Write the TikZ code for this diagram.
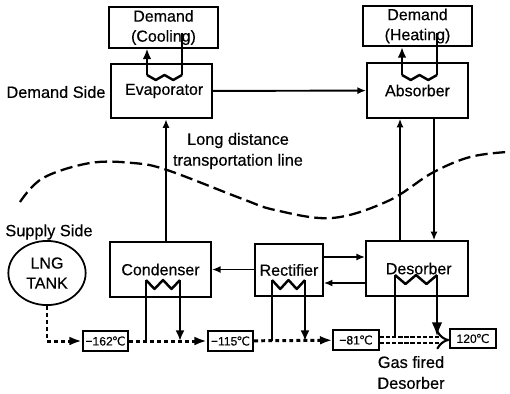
\documentclass[tikz,border=0pt]{standalone}
\usepackage{fontspec}
\setmainfont[FakeBold=0.4]{Liberation Sans}
\newfontfamily\symfont[FakeBold=0.3]{DejaVu Sans}
\usetikzlibrary{arrows.meta,calc,shapes.geometric}
\tikzset{
  unitbox/.style={draw,line width=1pt,align=center,inner sep=0pt,font=\fontsize{9.1}{11.4}\selectfont},
  tempbox/.style={draw,line width=1pt,inner sep=0pt,minimum height=11pt,minimum width=26pt,font=\fontsize{6.9}{8}\selectfont},
  txt/.style={align=center,inner sep=0pt,font=\fontsize{9.3}{11.9}\selectfont},
  flow/.style={line width=1.1pt,-{Latex[length=5pt,width=4pt]}},
  pipe/.style={line width=1.4pt},
  feed/.style={line width=1.4pt,-{Latex[length=6pt,width=5pt]}},
  lng/.style={line width=1.7pt,dash pattern=on 2.2pt off 1.8pt},
  lngin/.style={lng,-{Latex[length=7pt,width=5pt]}}
}
\newcommand{\coil}[3]{%
  \draw[pipe,line join=round] (#1) -- ($(#1)!.25!(#2)+(0,#3)$) -- ($(#1)!.5!(#2)$) -- ($(#1)!.75!(#2)+(0,#3)$) -- (#2);}
\newcommand{\degC}{{\symfont\kern-0.5pt ℃}}
\begin{document}
\begin{tikzpicture}[x=0.02cm,y=-0.02cm]
  \useasboundingbox (0,0) rectangle (510,393);
  % demand side
  \node[unitbox,minimum width=62pt,minimum height=23pt] (dCool) at (163.5,27.5) {Demand\\(Cooling)};
  \node[unitbox,minimum width=62pt,minimum height=23pt] (dHeat) at (417.5,26) {Demand\\(Heating)};
  \node[unitbox,minimum width=57.5pt,minimum height=31pt] (evap) at (161.5,91) {\hspace*{3pt}Evaporator};
  \node[unitbox,minimum width=57.5pt,minimum height=31pt] (absb) at (417.5,90.5) {Absorber};
  % supply side
  \node[unitbox,minimum width=57.5pt,minimum height=31pt] (cond) at (160.5,269.5) {Condenser};
  \node[unitbox,minimum width=38.5pt,minimum height=30pt] (rect) at (289,270) {Rectifier};
  \node[unitbox,minimum width=58pt,minimum height=31pt] (desb) at (417,268.5) {\hspace*{2pt}Desorber};
  \node[unitbox,ellipse,minimum width=44pt,minimum height=36.5pt] (tank) at (47,273) {LNG\\TANK};
  \node[tempbox] (t162) at (105.5,341) {−162\degC};
  \node[tempbox] (t115) at (230.5,341) {−115\degC};
  \node[tempbox] (t81) at (356,340) {−81\degC};
  \node[tempbox] (t120) at (473,338.5) {120\degC};
  % labels
  \node[txt] (lDemand) at (56,92) {Demand Side};
  \node[txt] (lLine) at (238,151) {Long distance\\transportation line};
  \node[txt] (lSupply) at (49,232) {Supply Side};
  \node[txt] (lGas) at (411,372.5) {Gas fired\\Desorber};
  % side border
  \draw[line width=1.3pt,dash pattern=on 7pt off 3pt] plot[smooth,tension=0.6] coordinates
    {(20,202) (43,178) (90,163) (133,163) (167,170) (240,198) (275,210) (332,218) (388,201) (432,173) (470,157) (507,152)};
  % refrigerant lines
  \draw[flow] (evap) -- (absb);
  \draw[flow] (cond.north -| 166,0) -- (evap.south -| 166,0);
  \draw[flow] (desb.north -| 400,0) -- (absb.south -| 400,0);
  \draw[flow] (absb.south -| 434,0) -- (desb.north -| 434,0);
  \draw[flow] (rect.west |- cond) -- (cond.east);
  \draw[flow] (rect.east |- 0,257) -- (desb.west |- 0,257);
  \draw[flow] (desb.west |- 0,283) -- (rect.east |- 0,283);
  % coils
  \coordinate (evL) at (147,75); \coordinate (evR) at (182,75);
  \coordinate (abL) at (402,75); \coordinate (abR) at (437,75);
  \coordinate (coL) at (146,280); \coordinate (coR) at (180,280);
  \coordinate (reL) at (272,280); \coordinate (reR) at (305,280);
  \coordinate (deL) at (395,275); \coordinate (deR) at (437,275);
  \coil{evL}{evR}{5}
  \coil{abL}{abR}{5}
  \coil{coL}{coR}{9}
  \coil{reL}{reR}{9}
  \coil{deL}{deR}{9}
  \draw[feed] (evL) -- (evL |- dCool.south);
  \draw[pipe] (evR) -- (evR |- 0,33);
  \draw[feed] (abL) -- (abL |- dHeat.south);
  \draw[pipe] (abR) -- (abR |- 0,33);
  % lng line
  \coordinate (bend) at (tank.south |- t162);
  \draw[lng] (tank.south) -- (bend);
  \draw[lngin] (bend) -- (t162);
  \draw[lngin] (t162) -- (t115);
  \draw[lngin] (t115) -- (t81);
  \draw[double,double distance=2.4pt,line width=1.2pt,dash pattern=on 2.5pt off 1pt,-{Implies}] (t81.east) -- (t81.east -| t120.west);
  \draw[pipe] (coL) -- (coL |- t162);
  \draw[feed] (coR) -- (coR |- t162);
  \draw[pipe] (reL) -- (reL |- t115);
  \draw[feed] (reR) -- (reR |- t115);
  \draw[pipe,shorten >=1.5pt] (deL) -- (deL |- t81);
  \draw[feed,shorten >=2pt,-{Latex[length=8pt,width=6pt]}] (deR) -- (deR |- t81);
\end{tikzpicture}
\end{document}
